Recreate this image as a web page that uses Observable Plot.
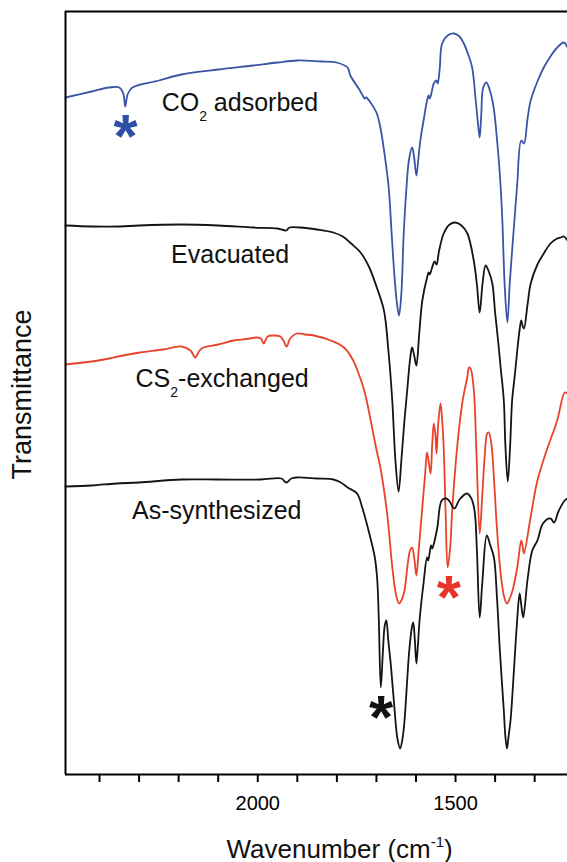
<!DOCTYPE html>
<html><head><meta charset="utf-8">
<script src="https://cdn.jsdelivr.net/npm/d3@7"></script>
<script src="https://cdn.jsdelivr.net/npm/@observablehq/plot@0.6"></script>
<style>body{margin:0;background:#fff} #chart svg{display:block}</style>
</head><body><div id="chart"></div>
<script>
// ---- data (wavenumber in cm^-1, transmittance in arbitrary stacked units)
const co2Wn = [2486,2420,2376,2350,2340,2335,2329,2317,2250,2193,2100,2011,1950,1901,1840,1801,1773,1766,1745,1736,1730,1726,1715,1700,1690,1679,1669,1662,1656,1649,1643,1637,1631,1624,1618,1610,1605,1599,1594,1589,1580,1572,1568,1565,1560,1555,1548,1545,1540,1534,1520,1504,1490,1479,1468,1458,1449,1443,1439,1435,1430,1422,1411,1403,1395,1388,1382,1376,1369,1363,1357,1350,1344,1334,1327,1318,1310,1293,1277,1260,1243,1226,1217];
const co2T  = [67.7,68.3,68.7,68.7,68.1,66.8,68.0,68.7,69.4,70.0,70.5,70.9,71.2,71.4,71.3,71.2,70.7,69.9,68.6,68.0,67.6,67.7,67.2,66.2,64.7,61.9,58.7,54.4,50.7,47.4,45.9,48.1,54.1,58.7,61.4,62.7,61.8,59.9,61.6,63.4,65.6,67.4,67.9,67.6,68.3,69.1,69.4,69.1,70.6,73.1,73.9,74.1,73.8,73.1,72.0,70.7,67.4,65.0,63.7,66.0,68.7,69.2,68.1,66.5,63.4,60.0,55.7,49.1,45.2,49.1,52.4,56.0,59.1,63.4,63.1,65.6,67.4,69.3,70.7,71.8,72.7,73.2,72.7];

const evacWn = [2486,2420,2349,2300,2193,2100,2011,1950,1928,1920,1892,1850,1809,1785,1764,1740,1718,1700,1681,1670,1660,1652,1644,1637,1630,1622,1615,1610,1605,1599,1592,1584,1572,1568,1565,1560,1553,1548,1542,1530,1515,1500,1485,1470,1454,1446,1439,1432,1424,1416,1407,1400,1392,1386,1378,1374,1368,1362,1357,1350,1344,1338,1334,1330,1327,1318,1310,1293,1277,1260,1243,1234,1226,1217];
const evacT  = [54.9,54.8,54.8,54.9,55.0,54.9,54.7,54.6,54.4,54.7,54.7,54.5,54.2,53.8,53.1,52.2,50.7,48.8,46.4,42.5,37.4,31.4,28.3,31.4,35.0,38.5,41.5,42.7,42.0,40.9,44.0,47.4,49.7,50.2,50.0,50.6,51.3,51.0,52.3,54.1,55.0,55.2,54.9,54.1,51.4,49.0,46.2,49.0,50.9,50.3,49.1,46.2,43.2,40.7,37.4,32.9,29.3,32.9,37.4,40.0,42.4,44.5,45.4,44.8,44.6,47.0,49.1,51.0,52.1,53.1,53.6,53.7,53.8,53.4];

const cs2Wn = [2486,2420,2376,2340,2297,2240,2193,2170,2158,2147,2137,2100,2061,2020,2002,1992,1985,1975,1960,1943,1935,1927,1918,1901,1880,1858,1816,1782,1760,1745,1730,1718,1700,1690,1673,1659,1650,1643,1636,1629,1622,1615,1610,1604,1599,1593,1584,1577,1572,1567,1563,1559,1555,1551,1548,1544,1538,1534,1530,1525,1520,1514,1508,1496,1482,1470,1466,1462,1454,1447,1439,1433,1426,1420,1416,1409,1402,1395,1384,1376,1370,1363,1356,1344,1334,1330,1327,1310,1293,1268,1243,1224,1217];
const cs2T  = [41.0,41.3,41.6,41.9,42.2,42.5,42.8,42.4,41.7,42.4,42.7,43.0,43.4,43.6,43.7,43.6,43.1,43.8,43.9,43.8,43.4,42.8,43.6,44.1,44.0,43.9,43.4,42.7,41.5,40.1,38.3,36.1,32.5,30.7,26.1,20.4,17.9,17.1,17.5,18.4,20.7,22.4,22.7,21.5,19.9,22.5,26.7,30.0,32.2,31.0,30.1,33.0,35.1,34.0,32.1,35.0,37.1,35.5,32.7,26.0,20.7,22.5,26.7,32.7,37.4,39.8,40.7,40.6,38.5,32.0,24.1,27.5,32.0,34.1,34.2,32.9,29.0,24.4,19.4,17.6,17.1,17.6,18.4,20.7,23.4,22.7,22.1,25.8,29.4,32.6,35.4,38.2,38.1];

const asWn = [2486,2420,2358,2300,2193,2100,1992,1940,1928,1915,1901,1850,1809,1790,1773,1749,1736,1718,1704,1698,1694,1689,1684,1679,1675,1670,1663,1654,1647,1640,1634,1629,1617,1610,1607,1603,1599,1595,1591,1581,1572,1569,1562,1559,1556,1546,1535,1523,1515,1503,1490,1471,1460,1452,1446,1439,1432,1421,1412,1403,1395,1388,1378,1374,1370,1366,1361,1352,1345,1338,1334,1329,1318,1306,1293,1279,1260,1251,1240,1224,1217];
const asT  = [28.8,28.9,29.1,29.2,29.5,29.5,29.5,29.6,29.2,29.6,29.7,29.6,29.5,29.2,28.7,28.1,26.7,24.1,21.7,19.5,15.5,8.7,12.0,14.9,15.4,13.4,10.7,6.4,3.6,2.6,3.6,5.4,12.4,14.8,15.2,13.5,11.1,13.0,15.4,19.1,21.7,21.4,22.9,22.6,22.9,24.7,27.4,27.6,27.3,26.6,27.5,28.1,27.6,26.4,22.4,15.7,19.4,23.9,22.9,21.7,17.5,12.4,6.4,3.8,2.6,3.8,5.4,10.7,15.0,18.1,17.0,15.7,19.5,22.4,23.4,25.1,25.6,25.2,26.3,27.4,27.6];

const seriesNames  = ["CO₂ adsorbed", "Evacuated", "CS₂-exchanged", "As-synthesized"];
const seriesColors = ["#3b54a4", "#141414", "#e8432a", "#141414"];
const labelWn = [2243, 2219, 2309, 2318];
const labelT  = [66.4, 51.2, 38.8, 25.6];
const starWn = [2334, 1517, 1688];
const starT  = [64.7, 18.6, 6.6];
const starColors = ["#2f4fa6", "#e8352a", "#111111"];
const xTicks = d3.range(1300, 2500, 100);
const xDomain = [2486, 1217];
const yDomain = [0, 76.3];

// ---- build tables
const seriesWn = [co2Wn, evacWn, cs2Wn, asWn];
const seriesT = [co2T, evacT, cs2T, asT];
const rows = seriesNames.map((name, i) => seriesWn[i].map((w, j) => ({series: name, wn: w, t: seriesT[i][j]})));
const labels = seriesNames.map((name, i) => ({text: name, wn: labelWn[i], t: labelT[i]}));
const stars = starWn.map((w, i) => ({wn: w, t: starT[i], color: starColors[i]}));

const svg = Plot.plot({
  width: 567, height: 862,
  marginTop: 11, marginBottom: 88, marginLeft: 65, marginRight: 0,
  style: {fontFamily: "'Liberation Sans', Arial, sans-serif", background: "#fff", color: "#000"},
  x: {domain: xDomain},
  y: {domain: yDomain, axis: null},
  marks: [
    ...rows.map((r, i) => Plot.line(r, {x: "wn", y: "t", stroke: seriesColors[i], strokeWidth: 1.8, curve: "catmull-rom"})),
    Plot.ruleX([xDomain[0]], {stroke: "#000", strokeWidth: 2}),
    Plot.ruleY([yDomain[0]], {stroke: "#000", strokeWidth: 2}),
    Plot.ruleY([yDomain[1]], {stroke: "#000", strokeWidth: 2}),
    Plot.axisX(xTicks, {anchor: "bottom", tickSize: 8, tickPadding: 13, strokeWidth: 2, fontSize: 20,
      tickFormat: d => d % 500 === 0 ? String(d) : "", label: null}),
    Plot.text(labels, {x: "wn", y: "t", text: "text", textAnchor: "start", lineAnchor: "bottom", fontSize: 25, fill: "#111"}),
    ...stars.map(s => Plot.text([s], {x: "wn", y: "t", text: () => "*", fill: s.color, fontSize: 62, fontWeight: "bold", textAnchor: "middle", lineAnchor: "bottom", dy: 29})),
    Plot.text(["Wavenumber (cm⁻¹)"], {x: () => 1793, frameAnchor: "bottom", dy: 83, lineAnchor: "bottom", textAnchor: "middle", fontSize: 26, fill: "#111", text: d => d}),
    Plot.text(["Transmittance"], {frameAnchor: "left", dx: -43, dy: 1.5, rotate: -90, fontSize: 27, textAnchor: "middle", lineAnchor: "middle", fill: "#111", text: d => d})
  ]
});

// sub/superscripts as tspans
d3.select(svg).selectAll("text").each(function() {
  const t = this.textContent;
  const sel = d3.select(this);
  if (t.includes("₂")) {
    const [a, b] = t.split("₂");
    sel.text(null);
    sel.append("tspan").text(a);
    sel.append("tspan").attr("dy", 10).attr("font-size", 14).text("2");
    sel.append("tspan").attr("dy", -10).text(b);
  } else if (t.includes("⁻¹")) {
    const [a, b] = t.split("⁻¹");
    sel.text(null);
    sel.append("tspan").text(a);
    sel.append("tspan").attr("dy", -11).attr("font-size", 15).text("-1");
    sel.append("tspan").attr("dy", 11).text(b);
  }
});
document.getElementById("chart").append(svg);
</script>
</body></html>
